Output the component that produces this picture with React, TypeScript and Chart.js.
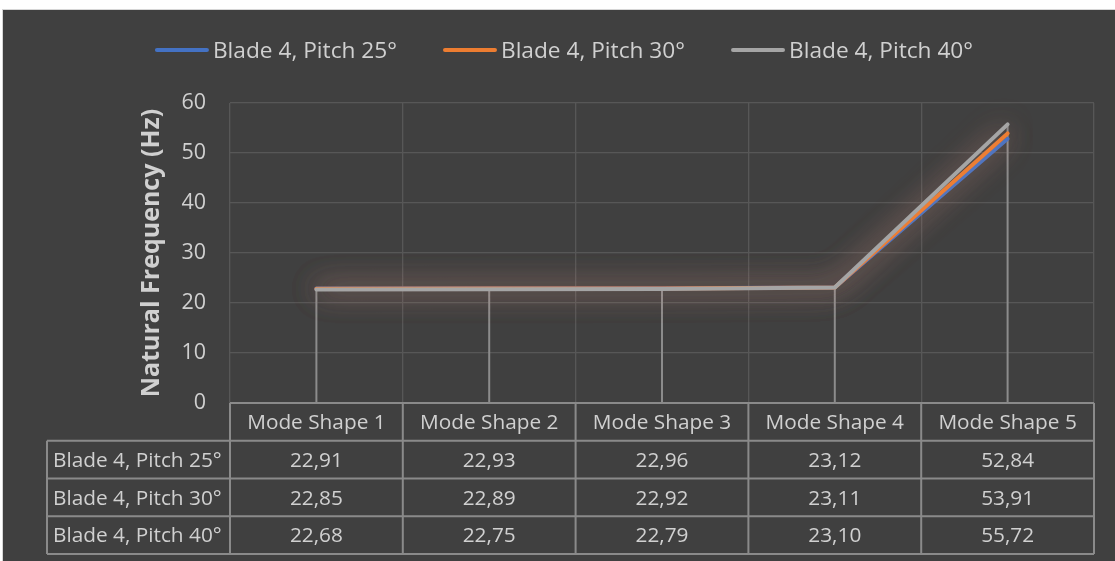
import React, { useEffect, useRef } from 'react';
import { Chart, registerables } from 'chart.js';

Chart.register(...registerables);

const categories = ['Mode Shape 1', 'Mode Shape 2', 'Mode Shape 3', 'Mode Shape 4', 'Mode Shape 5'];
const seriesNames = ['Blade 4, Pitch 25°', 'Blade 4, Pitch 30°', 'Blade 4, Pitch 40°'];
const pitch25 = [22.91, 22.93, 22.96, 23.12, 52.84];
const pitch30 = [22.85, 22.89, 22.92, 23.11, 53.91];
const pitch40 = [22.68, 22.75, 22.79, 23.1, 55.72];
const seriesValues = [pitch25, pitch30, pitch40];
const seriesColors = ['#4472C4', '#ED7D31', '#A5A5A5'];
const yMin = 0;
const yMax = 60;
const yStep = 10;
const yTitle = 'Natural Frequency (Hz)';

const FONT = '"Open Sans", "Noto Sans", sans-serif';
const TEXT = '#d0d0d0';
const BG = '#404040';
const GRID = '#575757';
const TABLE_LINE = '#8a8a8a';

const fmt = (v: number) => v.toFixed(2).replace('.', ',');

const backgroundPlugin = {
  id: 'bg',
  beforeDraw(chart: any) {
    const { ctx, width, height } = chart;
    ctx.save();
    ctx.fillStyle = '#ffffff';
    ctx.fillRect(0, 0, width, height);
    ctx.fillStyle = '#d6d6d6';
    ctx.fillRect(2, 9, width - 2, 1);
    ctx.fillRect(2, 9, 1, height - 9);
    ctx.fillStyle = BG;
    ctx.fillRect(3, 10, width - 3, height - 10);
    ctx.restore();
  },
};

const dropLinePlugin = {
  id: 'dropLines',
  beforeDatasetsDraw(chart: any) {
    const { ctx, scales } = chart;
    const xs = scales.x;
    const ys = scales.y;
    ctx.save();
    ctx.strokeStyle = '#8c8c8c';
    ctx.lineWidth = 2;
    categories.forEach((_, i) => {
      const maxV = Math.max(...seriesValues.map((s) => s[i]));
      const x = xs.getPixelForValue(i);
      ctx.beginPath();
      ctx.moveTo(x, ys.getPixelForValue(maxV));
      ctx.lineTo(x, ys.bottom);
      ctx.stroke();
    });
    ctx.restore();
  },
};

const glowPlugin = {
  id: 'glow',
  beforeDatasetDraw(chart: any) {
    const ctx = chart.ctx;
    ctx.save();
    ctx.shadowColor = 'rgba(240,165,150,0.42)';
    ctx.shadowBlur = 30;
  },
  afterDatasetDraw(chart: any) {
    chart.ctx.restore();
  },
};

const legendPlugin = {
  id: 'customLegend',
  afterDraw(chart: any) {
    const { ctx } = chart;
    ctx.save();
    ctx.font = `22.7px ${FONT}`;
    const lineLen = 50;
    const gapText = 4;
    const gapItem = 46;
    const widths = seriesNames.map((n) => lineLen + 4 + gapText + ctx.measureText(n).width);
    const total = widths.reduce((a, b) => a + b, 0) + gapItem * (seriesNames.length - 1);
    let x = 564 - total / 2;
    const y = 50;
    seriesNames.forEach((name, i) => {
      ctx.strokeStyle = seriesColors[i];
      ctx.lineWidth = 4;
      ctx.lineCap = 'round';
      ctx.beginPath();
      ctx.moveTo(x + 2, y);
      ctx.lineTo(x + 2 + lineLen, y);
      ctx.stroke();
      ctx.fillStyle = TEXT;
      ctx.textAlign = 'left';
      ctx.textBaseline = 'alphabetic';
      ctx.fillText(name, x + lineLen + 4 + gapText, y + 7.5);
      x += widths[i] + gapItem;
    });
    ctx.restore();
  },
};

const tablePlugin = {
  id: 'dataTable',
  afterDraw(chart: any) {
    const { ctx, scales, chartArea } = chart;
    const xs = scales.x;
    const step = xs.getPixelForValue(1) - xs.getPixelForValue(0);
    const edges: number[] = [];
    for (let i = 0; i <= categories.length; i++) {
      edges.push(xs.getPixelForValue(0) - step / 2 + i * step);
    }
    const labelLeft = 47;
    const rowH = 37.75;
    const top = chartArea.bottom;
    const rows = seriesNames.length + 1;
    const bottom = top + rows * rowH;
    const right = edges[edges.length - 1];
    ctx.save();
    ctx.strokeStyle = TABLE_LINE;
    ctx.lineWidth = 2;
    ctx.beginPath();
    ctx.moveTo(edges[0], top);
    ctx.lineTo(right, top);
    for (let r = 1; r <= rows; r++) {
      const y = top + r * rowH;
      ctx.moveTo(labelLeft, y);
      ctx.lineTo(right, y);
    }
    ctx.moveTo(labelLeft, top + rowH);
    ctx.lineTo(labelLeft, bottom);
    edges.forEach((e) => {
      ctx.moveTo(e, top);
      ctx.lineTo(e, bottom);
    });
    ctx.stroke();

    ctx.fillStyle = TEXT;
    ctx.font = `20.8px ${FONT}`;
    ctx.textBaseline = 'alphabetic';
    ctx.textAlign = 'center';
    categories.forEach((c, i) => {
      ctx.fillText(c, xs.getPixelForValue(i), top + 26);
    });
    seriesNames.forEach((name, r) => {
      const rowTop = top + (r + 1) * rowH;
      ctx.textAlign = 'left';
      ctx.fillText(name, labelLeft + 6, rowTop + 26);
      ctx.textAlign = 'center';
      seriesValues[r].forEach((v, i) => {
        ctx.fillText(fmt(v), xs.getPixelForValue(i), rowTop + 26);
      });
    });
    ctx.restore();
  },
};

export default function App() {
  const ref = useRef<HTMLCanvasElement>(null);
  useEffect(() => {
    document.body.style.margin = '0';
    const canvas = ref.current!;
    const chart = new Chart(canvas, {
      type: 'line',
      data: {
        labels: categories,
        datasets: seriesNames.map((name, i) => ({
          label: name,
          data: seriesValues[i],
          borderColor: seriesColors[i],
          backgroundColor: seriesColors[i],
          borderWidth: 4,
          pointRadius: 0,
          pointHoverRadius: 0,
          borderJoinStyle: 'round' as const,
          borderCapStyle: 'round' as const,
          tension: 0,
          clip: false as any,
          order: seriesNames.length - i,
        })),
      },
      options: {
        responsive: false,
        animation: false,
        devicePixelRatio: 1,
        layout: { padding: { top: 103, left: 0, right: 21, bottom: 158 } },
        plugins: {
          legend: { display: false },
          tooltip: { enabled: false },
        },
        scales: {
          x: {
            type: 'category',
            offset: true,
            grid: { offset: true, color: GRID, lineWidth: 1.3, drawTicks: false },
            border: { display: false },
            ticks: { display: false },
            afterFit(s: any) {
              s.height = 0;
            },
          },
          y: {
            min: yMin,
            max: yMax,
            ticks: {
              stepSize: yStep,
              color: TEXT,
              padding: 24,
              font: { family: FONT, size: 21.5 },
            },
            grid: { color: GRID, lineWidth: 1.3, drawTicks: false },
            border: { display: false },
            title: {
              display: true,
              text: yTitle,
              color: TEXT,
              font: { family: FONT, size: 25, weight: 'bold', lineHeight: 1.2 },
              padding: { top: 137, bottom: 0 },
            },
            afterFit(s: any) {
              s.width = 230;
            },
          },
        },
      },
      plugins: [backgroundPlugin, dropLinePlugin, glowPlugin, legendPlugin, tablePlugin],
    } as any);
    return () => chart.destroy();
  }, []);
  return (
    <canvas
      ref={ref}
      width={1115}
      height={561}
      style={{ display: 'block', width: 1115, height: 561 }}
    />
  );
}
